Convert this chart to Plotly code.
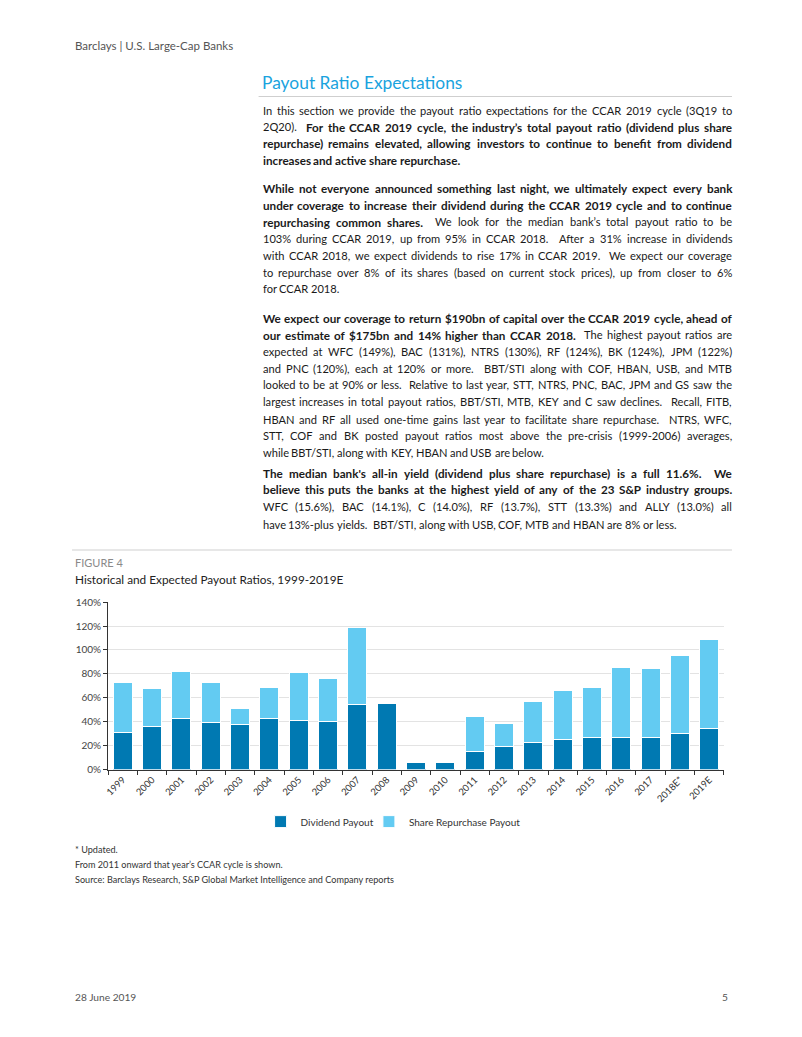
import glob
import os
import re
import plotly.graph_objects as go

# ---------------- data ----------------
categories = ["1999", "2000", "2001", "2002", "2003", "2004", "2005", "2006", "2007", "2008",
              "2009", "2010", "2011", "2012", "2013", "2014", "2015", "2016", "2017", "2018E*", "2019E"]
dividend_payout = [31, 36, 42.5, 39, 37.5, 43, 41, 40, 54, 55,
                   5.5, 5.5, 15, 19.5, 23, 25.5, 27, 27, 26.5, 30, 34.5]
total_payout = [73, 67.5, 82, 73, 51, 69, 81, 76, 118.5, 55,
                5.5, 5.5, 44, 38.5, 57, 66, 69, 85, 84.5, 95.5, 108.5]
repurchase_payout = [round(t - d, 1) for t, d in zip(total_payout, dividend_payout)]
y_ticks = [0, 20, 40, 60, 80, 100, 120, 140]
y_tick_labels = ["0%", "20%", "40%", "60%", "80%", "100%", "120%", "140%"]

# ---- layout helpers: map target picture pixels to figure paper coords ----
OFF = 8
FW, FH = 802 - 2 * OFF, 1037 - 2 * OFF
SX, OX = 0.992, 4.2     # measured page->picture mapping
SY, OY = 0.987, 6.3
def pgx(x):
    return (x - OX) / SX
def pgy(y):
    return (y - OY) / SY
def px(x):
    return (pgx(x) - OFF) / FW
def py(y):
    return 1 - (pgy(y) - OFF) / FH

DARK = "#0079B2"
LIGHT = "#63CBF2"
FONT = "Lato"

fig = go.Figure()
fig.add_trace(go.Bar(x=categories, y=dividend_payout, name="Dividend Payout", legend="legend",
                     marker=dict(color=DARK, line=dict(color="white", width=1))))
fig.add_trace(go.Bar(x=categories, y=repurchase_payout, name="Share Repurchase Payout", legend="legend2",
                     marker=dict(color=LIGHT, line=dict(color="white", width=1))))

legend_style = dict(orientation="h", xanchor="left", yanchor="middle", y=py(820),
                    font=dict(family=FONT, size=10, color="#333"), itemwidth=30,
                    bgcolor="rgba(0,0,0,0)", borderwidth=0)

fig.update_layout(
    width=FW, height=FH, margin=dict(l=0, r=0, t=0, b=0),
    paper_bgcolor="white", plot_bgcolor="white",
    barmode="stack", bargap=0.35,
    font=dict(family=FONT, size=10, color="#333"),
    showlegend=True,
    legend=dict(legend_style, x=px(260)),
    legend2=dict(legend_style, x=px(368)),
    xaxis=dict(domain=[px(108), px(722)], showline=True, linecolor="#333", linewidth=1,
               ticks="outside", tickson="boundaries", ticklen=4, tickcolor="#333",
               tickangle=-45, tickfont=dict(family=FONT, size=9.5, color="#333"),
               showgrid=False, fixedrange=True),
    yaxis=dict(domain=[py(768), py(601)], range=[0, 140], tickvals=y_ticks, ticktext=y_tick_labels,
               showline=True, linecolor="#333", linewidth=1, ticks="outside", ticklen=4,
               tickcolor="#333", showgrid=True, gridcolor="#E3E3E3", gridwidth=1,
               tickfont=dict(family=FONT, size=10, color="#444"), zeroline=False, fixedrange=True),
)

ann = []
def text(x, y, s, size=11.5, color="#1a1a1a", xanchor="left", family=FONT):
    ann.append(dict(x=px(x), y=py(y), xref="paper", yref="paper", text=s, showarrow=False,
                    xanchor=xanchor, yanchor="middle", align="left",
                    font=dict(family=family, size=size, color=color)))

text(73, 46, "Barclays | U.S. Large-Cap Banks", size=11.5, color="#555")
text(259, 83, "Payout Ratio Expectations", size=17.4, color="#1AA3DE")

body = [
    (110, "In this section we provide the payout ratio expectations for the CCAR 2019 cycle (3Q19 to", True),
    (126.7, "2Q20).  <b>For the CCAR 2019 cycle, the industry’s total payout ratio (dividend plus share</b>", True),
    (143.3, "<b>repurchase) remains elevated, allowing investors to continue to benefit from dividend</b>", True),
    (160, "<b>increases and active share repurchase.</b>", False),
    (188.3, "<b>While not everyone announced something last night, we ultimately expect every bank</b>", True),
    (205, "<b>under coverage to increase their dividend during the CCAR 2019 cycle and to continue</b>", True),
    (221.7, "<b>repurchasing common shares.</b>  We look for the median bank’s total payout ratio to be", True),
    (238.3, "103% during CCAR 2019, up from 95% in CCAR 2018.  After a 31% increase in dividends", True),
    (255, "with CCAR 2018, we expect dividends to rise 17% in CCAR 2019.  We expect our coverage", True),
    (271.7, "to repurchase over 8% of its shares (based on current stock prices), up from closer to 6%", True),
    (288.3, "for CCAR 2018.", False),
    (317.7, "<b>We expect our coverage to return $190bn of capital over the CCAR 2019 cycle, ahead of</b>", True),
    (334.3, "<b>our estimate of $175bn and 14% higher than CCAR 2018.</b>  The highest payout ratios are", True),
    (351, "expected at WFC (149%), BAC (131%), NTRS (130%), RF (124%), BK (124%), JPM (122%)", True),
    (367.7, "and PNC (120%), each at 120% or more.  BBT/STI along with COF, HBAN, USB, and MTB", True),
    (384.3, "looked to be at 90% or less.  Relative to last year, STT, NTRS, PNC, BAC, JPM and GS saw the", True),
    (401, "largest increases in total payout ratios, BBT/STI, MTB, KEY and C saw declines.  Recall, FITB,", True),
    (418.3, "HBAN and RF all used one-time gains last year to facilitate share repurchase.  NTRS, WFC,", True),
    (435, "STT, COF and BK posted payout ratios most above the pre-crisis (1999-2006) averages,", True),
    (451.7, "while BBT/STI, along with KEY, HBAN and USB are below.", False),
    (471.7, "<b>The median bank's all-in yield (dividend plus share repurchase) is a full 11.6%.  We</b>", True),
    (488.3, "<b>believe this puts the banks at the highest yield of any of the 23 S&P industry groups.</b>", True),
    (505.7, "WFC (15.6%), BAC (14.1%), C (14.0%), RF (13.7%), STT (13.3%) and ALLY (13.0%) all", True),
    (523.3, "have 13%-plus yields.  BBT/STI, along with USB, COF, MTB and HBAN are 8% or less.", False),
]
SIZE_REG = 11.1
SIZE_BLD = 11.7
BODY_X0, BODY_X1 = pgx(260), pgx(728)   # in page pixels

measure = None
try:
    from PIL import ImageFont
    def find_font(name):
        for root in ["/usr/share/fonts", "/usr/local/share/fonts", os.path.expanduser("~/.fonts"),
                     os.path.expanduser("~/.local/share/fonts")]:
            r = glob.glob(os.path.join(root, "**", name), recursive=True)
            if r:
                return r[0]
        return None
    reg = find_font("Lato-Regular.ttf")
    bld = find_font("Lato-Bold.ttf")
    if reg and bld:
        f_reg = ImageFont.truetype(reg, 200)
        f_bld = ImageFont.truetype(bld, 200)
        def measure(word, bold):
            if bold:
                return f_bld.getlength(word) * SIZE_BLD / 200.0
            return f_reg.getlength(word) * SIZE_REG / 200.0
except Exception:
    measure = None

def tokens(s):
    parts = re.split(r"(<b>|</b>)", s)
    bold = False
    toks = []
    for p in parts:
        if p == "<b>":
            bold = True
            continue
        if p == "</b>":
            bold = False
            continue
        for i, w in enumerate(p.split(" ")):
            if i > 0:
                toks.append(None)
            if w:
                toks.append((w, bold))
    return toks

def esc(w):
    return w.replace("&", "&amp;").replace("<", "&lt;")

def page_text(xpage, y, s, size, color="#1a1a1a"):
    ann.append(dict(x=(xpage - OFF) / FW, y=py(y), xref="paper", yref="paper", text=s,
                    showarrow=False, xanchor="left", yanchor="middle", align="left",
                    font=dict(family=FONT, size=size, color=color)))

for y, s, just in body:
    if measure is None:
        page_text(BODY_X0, y, s.replace("S&P", "S&amp;P"), SIZE_REG)
        continue
    toks = tokens(s)
    words = [t for t in toks if t is not None]
    n_spaces = sum(1 for t in toks if t is None)
    total_w = sum(measure(w, b) for w, b in words)
    space_w = measure(" ", False)
    gap = (BODY_X1 - BODY_X0 - total_w) / n_spaces if (just and n_spaces) else space_w
    gap = max(gap, 0.6 * space_w)
    x = BODY_X0
    for t in toks:
        if t is None:
            x += gap
        else:
            w, b = t
            if b:
                page_text(x, y, "<b>" + esc(w) + "</b>", SIZE_BLD)
            else:
                page_text(x, y, esc(w), SIZE_REG)
            x += measure(w, b)

text(73, 561.5, "FIGURE 4", size=11, color="#8a8a8a")
text(73, 578, "Historical and Expected Payout Ratios, 1999-2019E", size=11.8, color="#222")

text(73, 848, "* Updated.", size=9.1, color="#333")
text(73, 863, "From 2011 onward that year’s CCAR cycle is shown.", size=9.1, color="#333")
text(73, 878, "Source: Barclays Research, S&amp;P Global Market Intelligence and Company reports", size=9.1, color="#333")

text(73, 995, "28 June 2019", size=10.2, color="#555")
text(728, 995, "5", size=10.2, color="#555", xanchor="right")

fig.update_layout(annotations=ann)

shapes = [
    dict(type="line", xref="paper", yref="paper", x0=px(258), x1=px(730), y0=py(96.5), y1=py(96.5),
         line=dict(color="#CFCFCF", width=1)),
    dict(type="line", xref="paper", yref="paper", x0=px(72), x1=px(730), y0=py(549), y1=py(549),
         line=dict(color="#CFCFCF", width=1)),
]
fig.update_layout(shapes=shapes)

fig.write_html("out.html", config={"displayModeBar": False})
